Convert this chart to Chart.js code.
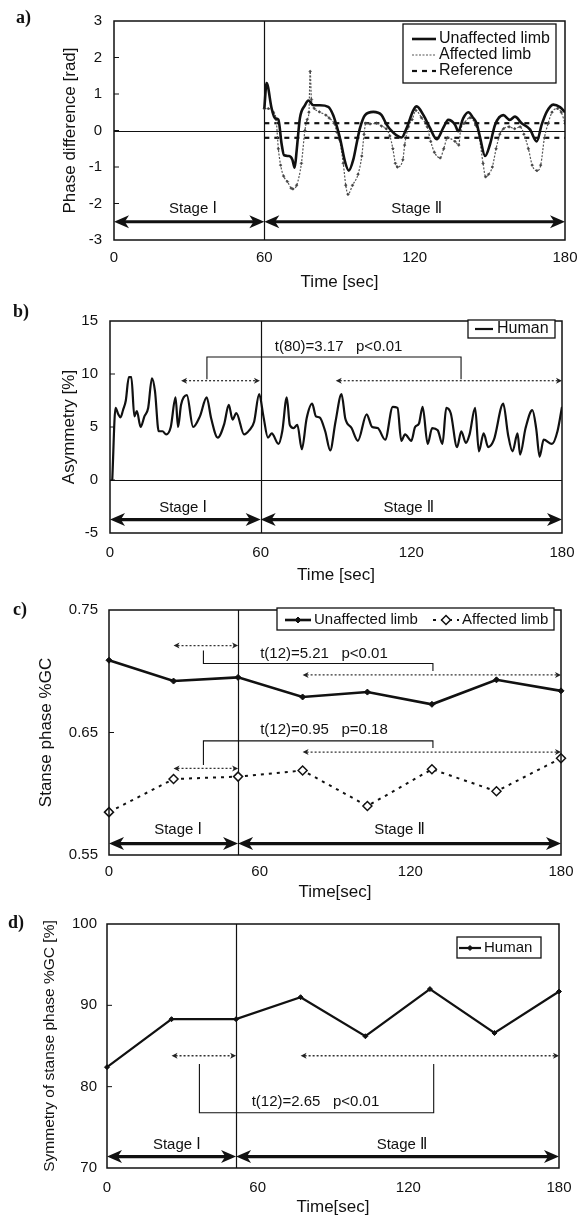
<!DOCTYPE html>
<html>
<head>
<meta charset="utf-8">
<title>Phase difference / asymmetry / stance phase</title>
<script src="https://cdn.jsdelivr.net/npm/chart.js@4.4.0/dist/chart.umd.min.js"></script>
<style>
  html, body { margin: 0; padding: 0; background: #fff; }
  body { position: relative; width: 587px; height: 1220px; overflow: hidden; }
  .box { position: absolute; left: 0; width: 587px; }
  .tag { position: absolute; font: bold 18px/20px "Liberation Serif", "DejaVu Serif", serif; color: #111; }
</style>
</head>
<body>
<div class="box" style="top:0;height:300px"><canvas id="chartA"></canvas></div>
<div class="box" style="top:300px;height:290px"><canvas id="chartB"></canvas></div>
<div class="box" style="top:590px;height:315px"><canvas id="chartC"></canvas></div>
<div class="box" style="top:905px;height:315px"><canvas id="chartD"></canvas></div>
<div class="tag" style="left:16px;top:7px">a)</div>
<div class="tag" style="left:13px;top:301px">b)</div>
<div class="tag" style="left:13px;top:599px">c)</div>
<div class="tag" style="left:8px;top:912px">d)</div>
<script>
// ---- data ----
var xTicks = [0, 60, 120, 180];

// a) phase difference [rad]
var timesUn = [60, 60.9, 62.9, 64.2, 65.6, 66.9, 67.9, 69.9, 71.2, 72.1,
  72.9, 74.2, 76.2, 77.6, 79.6, 82.2, 85.5, 87.5, 89.1, 90.5,
  92, 93.7, 95.5, 97, 98.2, 100.2, 103.5, 106.8, 108.8, 111.5,
  114.8, 116.8, 119.5, 120.8, 123.5, 126.1, 128.8, 131.4, 133.4, 136.1,
  137.4, 139.4, 141.4, 143.4, 144.7, 146.1, 148.1, 150.1, 152.1, 155.4,
  158, 160, 162.7, 166, 168.7, 170.7, 172.7, 175.3, 178, 180];
var phaseUn = [0.6, 1.3, 0.61, 0.34, 0.3, -0.37, -0.68, -0.7, -0.8, -1.02,
  -0.55, 0.34, 0.69, 0.82, 0.69, 0.69, 0.65, 0.42, 0.07, -0.3,
  -0.8, -1.1, -0.8, -0.3, 0.07, 0.42, 0.51, 0.42, 0.16, -0.06,
  -0.19, 0.07, 0.56, 0.66, 0.42, 0.07, -0.24, 0.07, 0.29, 0.16,
  -0.02, 0.34, 0.5, 0.34, 0.2, -0.19, -0.7, -0.37, 0.16, 0.42,
  0.29, 0.38, 0.2, 0.03, -0.3, 0.16, 0.51, 0.71, 0.64, 0.5];
var timesAff = [60, 61.6, 63.6, 64.7, 65.6, 66.5, 67.7, 69.2, 70.7, 71.4,
  72.9, 74.8, 76.2, 77.1, 77.8, 78.3, 78.8, 80, 82, 84.6,
  85.9, 87.8, 89, 90, 91.5, 92.5, 93.4, 95.2, 97.4, 98.9,
  99.8, 100.5, 102.2, 104.8, 106.8, 108.6, 110.1, 111.3, 112.3, 113.1,
  115.3, 116, 117.5, 119, 120.5, 122.7, 125, 126.4, 127.9, 130.2,
  131.6, 133.1, 136.1, 137.6, 138.3, 139.8, 142.1, 144.3, 145.8, 147.3,
  148.3, 149.5, 151, 152.5, 154, 155.5, 157.7, 159.9, 162.1, 163.6,
  165.4, 166.9, 168.8, 170.3, 171.8, 173.3, 174.8, 177, 178.5, 180];
var phaseAff = [0.6, 0.6, 0.5, 0.3, -0.5, -0.95, -1.25, -1.4, -1.58, -1.6,
  -1.5, -0.9, 0.0, 0.3, 0.5, 1.62, 0.85, 0.6, 0.51, 0.42,
  0.34, 0.2, -0.05, -0.25, -0.9, -1.5, -1.75, -1.5, -1.2, -0.7,
  -0.1, 0.2, 0.18, 0.2, 0.12, 0.05, -0.15, -0.5, -0.9, -1.0,
  -0.8, -0.4, 0.1, 0.3, 0.55, 0.35, 0.1, -0.3, -0.6, -0.75,
  -0.5, -0.2, -0.3, -0.4, 0.0, 0.2, 0.35, 0.15, -0.2, -0.9,
  -1.27, -1.2, -1.0, -0.5, -0.1, 0.05, 0.1, 0.05, 0.1, -0.1,
  -0.5, -0.95, -1.1, -0.95, -0.2, 0.2, 0.5, 0.6, 0.5, 0.2];
var refTimes = [60, 180];
var refUpper = [0.2, 0.2];
var refLower = [-0.2, -0.2];
var yTicksA = [-3, -2, -1, 0, 1, 2, 3];

// b) asymmetry [%]
var timesB = [0.9, 2.2, 3.3, 4.2, 5.2, 6.3, 7.5, 8.5, 9.7, 10.7,
  12.2, 13.7, 15.2, 16.7, 17.9, 19.4, 20.9, 22.4, 24.2, 26.1,
  27.1, 28.3, 30.6, 33.1, 35.8, 38.5, 40.3, 42.9, 45.5, 47.3,
  48.8, 50.3, 53.4, 55.5, 57.4, 59.4, 61.1, 62.9, 64.4, 67.1,
  68.6, 70.4, 71.6, 73.1, 74.6, 76.4, 78.3, 80.5, 82, 83.5,
  85.7, 87.7, 89.8, 92.2, 93.7, 96.2, 98.7, 102.2, 104.4, 106.6,
  109.6, 112.6, 114.5, 116, 117.5, 120, 121.5, 123, 124.5, 126.5,
  128.3, 130.5, 132.4, 133.9, 135.7, 138.2, 139.9, 141.7, 143.2, 145.4,
  146.9, 148.8, 150.6, 152.9, 156.6, 158.5, 160.3, 162.3, 163.3, 165.5,
  168.2, 169.7, 171.1, 172.7, 176, 178.2, 180];
var asymmetry = [0, 6.8, 6.2, 5.9, 6.6, 7.5, 9.7, 9.7, 6.0, 6.5,
  5.0, 6.0, 6.8, 9.6, 8.4, 4.6, 4.6, 4.3, 5.0, 7.8,
  5.0, 7.1, 8.0, 5.0, 6.0, 7.8, 5.8, 4.0, 5.3, 7.1,
  5.7, 6.3, 4.3, 4.7, 5.5, 8.1, 6.0, 4.0, 4.4, 3.4,
  4.6, 7.8, 5.2, 4.9, 5.2, 2.9, 5.8, 7.2, 6.0, 5.9,
  4.6, 2.8, 5.5, 8.1, 5.8, 4.9, 3.7, 6.2, 5.0, 4.9,
  3.8, 6.9, 6.8, 3.7, 4.3, 3.7, 5.0, 5.3, 6.9, 3.4,
  4.9, 4.7, 3.4, 6.8, 6.3, 3.1, 4.6, 3.5, 4.3, 6.8,
  2.7, 4.4, 3.1, 3.8, 7.2, 4.3, 2.7, 4.4, 2.4, 4.9,
  6.6, 4.9, 2.2, 3.8, 3.4, 4.6, 6.9];
var yTicksB = [-5, 0, 5, 10, 15];

// c) stance phase %GC, d) symmetry of stance phase
var timesCD = [0, 25.7, 51.4, 77.1, 102.9, 128.6, 154.3, 180];
var stanceUn = [0.709, 0.692, 0.695, 0.679, 0.683, 0.673, 0.693, 0.684];
var stanceAff = [0.585, 0.612, 0.614, 0.619, 0.590, 0.620, 0.602, 0.629];
var yTicksC = [0.55, 0.65, 0.75];
var stanceSym = [82.4, 88.3, 88.3, 91.0, 86.2, 92.0, 86.6, 91.7];
var yTicksD = [70, 80, 90, 100];

// ---- helpers ----
var SANS = "'Liberation Sans', Arial, 'DejaVu Sans', sans-serif";
Chart.defaults.font.family = SANS;
Chart.defaults.color = '#111';

function pts(xs, ys) {
  return xs.map(function (x, i) { return { x: x, y: ys[i] }; });
}

function line(c, x1, y1, x2, y2) {
  c.beginPath(); c.moveTo(x1, y1); c.lineTo(x2, y2); c.stroke();
}

function head(c, x, y, dir, L, H) {
  c.beginPath();
  c.moveTo(x, y);
  c.lineTo(x - dir * L, y - H);
  c.lineTo(x - dir * L * 0.72, y);
  c.lineTo(x - dir * L, y + H);
  c.closePath();
  c.fill();
}

function paperPlugin(cfg) {
  return {
    id: 'paper',
    beforeDraw: function (chart) {
      var c = chart.ctx;
      c.save(); c.fillStyle = '#fff'; c.fillRect(0, 0, chart.width, chart.height); c.restore();
    },
    beforeDatasetsDraw: function (chart) {
      var c = chart.ctx, a = chart.chartArea, sx = chart.scales.x, sy = chart.scales.y;
      c.save();
      c.strokeStyle = '#111';
      c.lineWidth = 1.2;
      var dx = Math.round(sx.getPixelForValue(cfg.divider)) + 0.5;
      line(c, dx, a.top, dx, a.bottom);
      if (cfg.zeroLine) {
        var zy = Math.round(sy.getPixelForValue(0)) + 0.5;
        line(c, a.left, zy, a.right, zy);
      }
      c.restore();
    },
    afterDatasetsDraw: function (chart) {
      var c = chart.ctx, a = chart.chartArea, sx = chart.scales.x, sy = chart.scales.y;
      var X = function (v) { return sx.getPixelForValue(v); };
      var Y = function (v) { return sy.getPixelForValue(v); };
      c.save();
      // frame
      c.strokeStyle = '#111'; c.lineWidth = 1.5;
      c.strokeRect(a.left, a.top, a.right - a.left, a.bottom - a.top);
      // inward ticks
      c.lineWidth = 1;
      sy.ticks.forEach(function (t) {
        var yy = Y(t.value);
        if (yy > a.top + 2 && yy < a.bottom - 2) line(c, a.left, yy, a.left + 5, yy);
      });
      // stage arrows
      var st = cfg.stages;
      c.fillStyle = '#111'; c.lineWidth = 3.2;
      var ys = Y(st.y), x0 = X(0), xs = X(st.split), x1 = X(180);
      [[x0, xs], [xs, x1]].forEach(function (p) {
        line(c, p[0] + 8, ys, p[1] - 8, ys);
        head(c, p[0], ys, -1, 15, 6.5);
        head(c, p[1], ys, 1, 15, 6.5);
      });
      c.font = '15px ' + SANS; c.textAlign = 'center'; c.textBaseline = 'middle';
      c.fillText('Stage \u2160', X(st.labelX[0]), Y(st.labelY));
      c.fillText('Stage \u2161', X(st.labelX[1]), Y(st.labelY));
      // dotted double arrows
      (cfg.dotted || []).forEach(function (d) {
        var yy = Y(d[2]), xa = X(d[0]), xb = X(d[1]);
        c.save();
        c.strokeStyle = '#333'; c.lineWidth = 1.3; c.setLineDash([2, 2]);
        line(c, xa + 4, yy, xb - 4, yy);
        c.restore();
        c.fillStyle = '#222';
        head(c, xa, yy, -1, 6, 3);
        head(c, xb, yy, 1, 6, 3);
      });
      // brackets
      c.strokeStyle = '#111'; c.lineWidth = 1.1;
      (cfg.brackets || []).forEach(function (b) {
        c.beginPath();
        b.forEach(function (p, i) {
          if (i === 0) c.moveTo(X(p[0]), Y(p[1])); else c.lineTo(X(p[0]), Y(p[1]));
        });
        c.stroke();
      });
      // statistics text
      c.fillStyle = '#111'; c.font = '15px ' + SANS; c.textAlign = 'left'; c.textBaseline = 'middle';
      (cfg.texts || []).forEach(function (t) { c.fillText(t[0], X(t[1]), Y(t[2])); });
      c.restore();
      drawLegend(chart, cfg.legend);
    }
  };
}

function drawLegend(chart, lg) {
  var c = chart.ctx, b = lg.box;
  c.save();
  c.fillStyle = '#fff'; c.strokeStyle = '#111'; c.lineWidth = 1.3;
  c.fillRect(b[0], b[1], b[2] - b[0], b[3] - b[1]);
  c.strokeRect(b[0], b[1], b[2] - b[0], b[3] - b[1]);
  var sets = chart.data.datasets.filter(function (d) { return !d.legendSkip; });
  lg.items.forEach(function (it, i) {
    var ds = sets[i];
    c.save();
    c.strokeStyle = ds.borderColor; c.lineWidth = ds.borderWidth; c.setLineDash(ds.borderDash || []);
    line(c, it[0], it[3], it[1], it[3]);
    c.restore();
    if (lg.markers && ds.pointRadius > 0) {
      c.save();
      c.fillStyle = ds.pointBackgroundColor; c.strokeStyle = ds.pointBorderColor || ds.borderColor;
      c.lineWidth = ds.pointBorderWidth || 1;
      Chart.helpers.drawPoint(c, { pointStyle: ds.pointStyle, rotation: 0, radius: ds.pointRadius, borderWidth: ds.pointBorderWidth || 1 }, (it[0] + it[1]) / 2, it[3]);
      c.restore();
    }
    c.fillStyle = '#111'; c.font = lg.font; c.textAlign = 'left'; c.textBaseline = 'middle';
    c.fillText(ds.label, it[2], it[3]);
  });
  c.restore();
}

function makeChart(id, cfg) {
  return new Chart(document.getElementById(id), {
    type: 'line',
    data: { datasets: cfg.datasets },
    options: {
      responsive: true,
      maintainAspectRatio: false,
      animation: false,
      layout: { padding: { top: cfg.area.top, right: 587 - cfg.area.right, bottom: 0, left: 0 } },
      plugins: { legend: { display: false }, tooltip: { enabled: false } },
      scales: {
        x: {
          type: 'linear', min: 0, max: 180,
          grid: { display: false, drawTicks: false },
          border: { display: false },
          ticks: { padding: cfg.xTickPad, font: { size: 15 }, color: '#111', maxRotation: 0, autoSkip: false },
          afterBuildTicks: function (s) { s.ticks = xTicks.map(function (v) { return { value: v }; }); },
          title: { display: true, text: cfg.xTitle, color: '#111', font: { size: 17 }, padding: { top: 0, bottom: cfg.xTitlePad } },
          afterFit: function (s) { s.height = cfg.xHeight; }
        },
        y: {
          type: 'linear', min: cfg.yTicks[0], max: cfg.yTicks[cfg.yTicks.length - 1],
          grid: { display: false, drawTicks: false },
          border: { display: false },
          ticks: { padding: cfg.yTickPad, font: { size: 15 }, color: '#111', callback: cfg.yFormat },
          afterBuildTicks: function (s) { s.ticks = cfg.yTicks.map(function (v) { return { value: v }; }); },
          title: { display: true, text: cfg.yTitle, color: '#111', font: { size: cfg.yTitleSize || 17 }, padding: { top: cfg.yTitlePad, bottom: 0 } },
          afterFit: function (s) { s.width = cfg.area.left; }
        }
      }
    },
    plugins: [paperPlugin(cfg)]
  });
}

// ---- a) ----
makeChart('chartA', {
  area: { left: 114, right: 565, top: 13 },
  xHeight: 60, xTickPad: 9, xTitlePad: 7, xTitle: 'Time [sec]',
  yTicks: yTicksA, yTickPad: 12, yTitlePad: 60, yTitle: 'Phase difference [rad]',
  divider: 60, zeroLine: true,
  stages: { y: -2.5, labelY: -2.14, split: 60, labelX: [31.5, 120.8] },
  legend: {
    box: [403, 24, 556, 83], font: '16px ' + SANS, markers: false,
    items: [[412, 436, 439, 39], [412, 436, 439, 55], [412, 436, 439, 71]]
  },
  datasets: [
    { label: 'Unaffected limb', data: pts(timesUn, phaseUn), borderColor: '#111', borderWidth: 2.6,
      pointRadius: 0, cubicInterpolationMode: 'monotone' },
    { label: 'Affected limb', data: pts(timesAff, phaseAff), borderColor: '#555', borderWidth: 1.2,
      borderDash: [2, 1.5], pointRadius: 1.4, pointStyle: 'rectRot', pointBackgroundColor: '#444',
      pointBorderColor: '#444', pointBorderWidth: 0.5, cubicInterpolationMode: 'monotone' },
    { label: 'Reference', data: pts(refTimes, refUpper), borderColor: '#111', borderWidth: 2.2,
      borderDash: [5, 5], pointRadius: 0 },
    { label: 'Reference', legendSkip: true, data: pts(refTimes, refLower), borderColor: '#111', borderWidth: 2.2,
      borderDash: [5, 5], pointRadius: 0 }
  ]
});

// ---- b) ----
makeChart('chartB', {
  area: { left: 110, right: 562, top: 7 },
  xHeight: 57, xTickPad: 11, xTitlePad: 4, xTitle: 'Time [sec]',
  yTicks: yTicksB, yTickPad: 12, yTitlePad: 59, yTitle: 'Asymmetry [%]',
  divider: 60, zeroLine: true,
  stages: { y: -3.73, labelY: -2.6, split: 60, labelX: [29.1, 119] },
  dotted: [[28.3, 59.7, 9.37], [89.9, 180, 9.37]],
  brackets: [[[38.6, 9.5], [38.6, 11.6], [139.8, 11.6], [139.8, 9.5]]],
  texts: [['t(80)=3.17   p<0.01', 65.6, 12.55]],
  legend: { box: [468, 20, 555, 38], font: '16px ' + SANS, markers: false, items: [[475, 493, 497, 29]] },
  datasets: [
    { label: 'Human', data: pts(timesB, asymmetry), borderColor: '#111', borderWidth: 2.2,
      pointRadius: 0, cubicInterpolationMode: 'monotone' }
  ]
});

// ---- c) ----
makeChart('chartC', {
  area: { left: 109, right: 561, top: 13 },
  xHeight: 50, xTickPad: 8, xTitlePad: 2, xTitle: 'Time[sec]',
  yTicks: yTicksC, yTickPad: 11, yTitlePad: 36, yTitle: 'Stanse phase %GC',
  yFormat: function (v) { return Number(v).toFixed(2); },
  divider: 51.4, zeroLine: false,
  stages: { y: 0.5593, labelY: 0.5704, split: 51.4, labelX: [27.5, 115.7] },
  dotted: [[25.7, 51.4, 0.721], [77.1, 180, 0.697], [77.1, 180, 0.634], [25.7, 51.4, 0.6207]],
  brackets: [
    [[37.6, 0.7169], [37.6, 0.7063], [129, 0.7063], [129, 0.7002]],
    [[37.6, 0.6234], [37.6, 0.6432], [129, 0.6432], [129, 0.6374]]
  ],
  texts: [['t(12)=5.21   p<0.01', 60.2, 0.7142], ['t(12)=0.95   p=0.18', 60.2, 0.652]],
  legend: { box: [277, 18, 554, 40], font: '15px ' + SANS, markers: true,
    items: [[285, 311, 314, 30], [433, 459, 462, 30]] },
  datasets: [
    { label: 'Unaffected limb', data: pts(timesCD, stanceUn), borderColor: '#111', borderWidth: 2.6,
      pointStyle: 'rectRot', pointRadius: 3, pointBackgroundColor: '#111', pointBorderColor: '#111',
      pointBorderWidth: 1, clip: false },
    { label: 'Affected limb', data: pts(timesCD, stanceAff), borderColor: '#111', borderWidth: 2,
      borderDash: [3, 5], pointStyle: 'rectRot', pointRadius: 4.5, pointBackgroundColor: '#fff',
      pointBorderColor: '#111', pointBorderWidth: 1.5, clip: false }
  ]
});

// ---- d) ----
makeChart('chartD', {
  area: { left: 107, right: 559, top: 16 },
  xHeight: 52, xTickPad: 11, xTitlePad: 2, xTitle: 'Time[sec]',
  yTicks: yTicksD, yTickPad: 10, yTitlePad: 40, yTitleSize: 15.5, yTitle: 'Symmetry of stanse phase %GC [%]',
  divider: 51.4, zeroLine: false,
  stages: { y: 71.4, labelY: 72.8, split: 51.4, labelX: [27.8, 117.5] },
  dotted: [[25.7, 51.4, 83.8], [77.1, 180, 83.8]],
  brackets: [[[36.8, 82.8], [36.8, 76.8], [130.1, 76.8], [130.1, 82.8]]],
  texts: [['t(12)=2.65   p<0.01', 57.6, 78.1]],
  legend: { box: [457, 32, 541, 53], font: '15px ' + SANS, markers: true, items: [[459, 481, 484, 43]] },
  datasets: [
    { label: 'Human', data: pts(timesCD, stanceSym), borderColor: '#111', borderWidth: 2.2,
      pointStyle: 'rectRot', pointRadius: 2.5, pointBackgroundColor: '#111', pointBorderColor: '#111',
      pointBorderWidth: 1, clip: false }
  ]
});
</script>
</body>
</html>
